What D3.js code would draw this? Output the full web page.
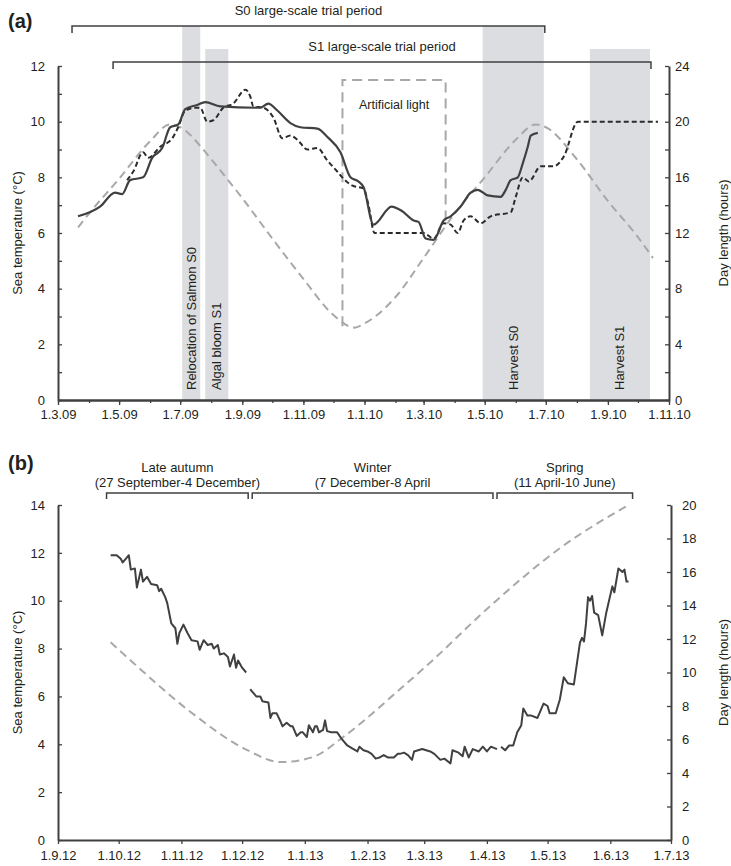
<!DOCTYPE html>
<html>
<head>
<meta charset="utf-8">
<script src="https://cdn.jsdelivr.net/npm/d3@7"></script>
<style>
  body { margin: 0; background: #fff; }
  svg { font-family: "Liberation Sans", Arial, sans-serif; }
</style>
</head>
<body>
<svg id="chart" width="731" height="866"></svg>
<script>
// ---------- Panel (a) data ----------
const aTrials = [
  { label: "S0 large-scale trial period", start: "2009-03-15", end: "2010-06-30", level: 0 },
  { label: "S1 large-scale trial period", start: "2009-04-25", end: "2010-10-14", level: 1 }
];
const aEvents = [
  { label: "Relocation of Salmon S0", start: "2009-07-03", end: "2009-07-21", level: 0 },
  { label: "Algal bloom S1", start: "2009-07-26", end: "2009-08-18", level: 1 },
  { label: "Harvest S0", start: "2010-04-29", end: "2010-06-29", level: 0 },
  { label: "Harvest S1", start: "2010-08-14", end: "2010-10-13", level: 1 }
];
const aDayLength = [
  ["2009-03-21", 12.4], ["2009-04-01", 13.4], ["2009-05-01", 15.9], ["2009-06-01", 18.6],
  ["2009-06-21", 19.8], ["2009-07-01", 19.6], ["2009-07-24", 18.0], ["2009-08-01", 17.3],
  ["2009-09-01", 14.5], ["2009-10-01", 11.6], ["2009-11-01", 8.7], ["2009-12-01", 6.1],
  ["2009-12-22", 5.2], ["2010-01-01", 5.5], ["2010-02-01", 7.4], ["2010-03-01", 10.2],
  ["2010-04-01", 13.4], ["2010-05-01", 16.0], ["2010-06-01", 18.7], ["2010-06-21", 19.8],
  ["2010-07-01", 19.6], ["2010-08-01", 17.3], ["2010-09-01", 14.3], ["2010-10-01", 11.7],
  ["2010-10-16", 10.2]
];
const aArtificialLight = [
  ["2009-12-10", 5.3], ["2009-12-10", 23], ["2010-03-23", 23], ["2010-03-23", 12.6]
];
const aTempS0 = [
  ["2009-03-21", 6.6], ["2009-04-12", 6.95], ["2009-04-27", 7.45], ["2009-05-04", 7.4],
  ["2009-05-12", 7.9], ["2009-05-25", 8.0], ["2009-06-03", 8.7], ["2009-06-13", 9.05],
  ["2009-06-21", 9.8], ["2009-06-29", 9.9], ["2009-07-06", 10.45], ["2009-07-18", 10.6],
  ["2009-07-26", 10.7], ["2009-08-10", 10.55], ["2009-09-19", 10.5], ["2009-09-27", 10.65],
  ["2009-10-06", 10.4], ["2009-10-19", 9.95], ["2009-10-29", 9.8], ["2009-11-15", 9.75],
  ["2009-11-25", 9.45], ["2009-12-08", 8.9], ["2009-12-18", 8.0], ["2009-12-26", 7.85],
  ["2009-12-31", 7.65], ["2010-01-10", 6.3], ["2010-01-28", 6.95], ["2010-02-07", 6.8],
  ["2010-02-19", 6.45], ["2010-02-24", 6.4], ["2010-03-03", 5.8], ["2010-03-11", 5.75],
  ["2010-03-21", 6.45], ["2010-03-28", 6.6], ["2010-04-07", 6.95], ["2010-04-17", 7.45],
  ["2010-04-24", 7.55], ["2010-05-04", 7.35], ["2010-05-17", 7.3], ["2010-05-22", 7.55],
  ["2010-05-27", 7.9], ["2010-06-03", 8.0], ["2010-06-08", 8.5], ["2010-06-13", 9.1],
  ["2010-06-16", 9.5], ["2010-06-23", 9.6]
];
const aTempS1 = [
  ["2009-05-09", 7.9], ["2009-05-15", 8.2], ["2009-05-25", 8.9], ["2009-05-30", 8.7],
  ["2009-06-11", 9.1], ["2009-06-23", 9.4], ["2009-06-29", 9.8], ["2009-07-06", 10.4],
  ["2009-07-16", 10.5], ["2009-07-21", 10.5], ["2009-07-28", 10.0], ["2009-08-03", 10.05],
  ["2009-08-13", 10.5], ["2009-08-23", 10.65], ["2009-09-04", 11.15], ["2009-09-09", 10.9],
  ["2009-09-12", 10.55], ["2009-09-22", 10.5], ["2009-10-02", 10.15], ["2009-10-11", 9.4],
  ["2009-10-19", 9.5], ["2009-10-26", 9.35], ["2009-11-05", 9.0], ["2009-11-15", 9.05],
  ["2009-11-25", 8.6], ["2009-12-05", 8.2], ["2009-12-11", 7.95], ["2009-12-20", 7.7],
  ["2009-12-31", 7.6], ["2010-01-05", 7.0], ["2010-01-11", 6.0], ["2010-03-01", 6.0],
  ["2010-03-11", 5.8], ["2010-03-21", 6.35], ["2010-03-28", 6.3], ["2010-04-04", 6.0],
  ["2010-04-10", 6.45], ["2010-04-17", 6.6], ["2010-04-27", 6.35], ["2010-05-07", 6.6],
  ["2010-05-27", 6.75], ["2010-06-01", 7.3], ["2010-06-08", 8.0], ["2010-06-14", 7.85],
  ["2010-06-26", 8.4], ["2010-07-09", 8.4], ["2010-07-19", 8.75], ["2010-08-02", 10.0],
  ["2010-10-21", 10.0]
];

// ---------- Panel (b) data ----------
const bSeasons = [
  { label: "Late autumn", dates: "(27 September-4 December)", start: "2012-09-25", end: "2012-12-04" },
  { label: "Winter", dates: "(7 December-8 April", start: "2012-12-06", end: "2013-04-04" },
  { label: "Spring", dates: "(11 April-10 June)", start: "2013-04-06", end: "2013-06-12" }
];
const bDayLength = [
  ["2012-09-27", 11.8], ["2012-10-08", 10.6], ["2012-11-06", 7.6], ["2012-12-03", 5.4],
  ["2012-12-20", 4.65], ["2013-01-05", 4.95], ["2013-01-20", 6.15], ["2013-02-17", 9.0],
  ["2013-03-04", 10.6], ["2013-04-02", 13.9], ["2013-05-08", 17.5], ["2013-06-10", 20.0]
];
// sea temperature, [days after 1 Sep 2012, °C], three logged segments
const bStart = "2012-09-01";
const bTempAutumn = [
  [26, 11.9], [29, 11.9], [31, 11.75], [32, 11.6], [34, 11.8], [35, 11.9], [36, 11.3],
  [38, 11.35], [39, 10.55], [41, 11.3], [42, 10.8], [44, 11.0], [46, 10.7], [49, 10.65],
  [50, 10.4], [51, 10.5], [53, 10.15], [54, 9.9], [56, 9.05], [58, 8.85], [59, 8.2],
  [60, 8.65], [62, 9.0], [64, 8.65], [66, 8.35], [69, 8.3], [70, 7.95], [72, 8.35],
  [74, 8.15], [76, 8.2], [77, 8.0], [79, 8.15], [80, 7.75], [82, 7.8], [84, 7.65],
  [85, 7.25], [87, 7.75], [88, 7.2], [89, 7.5], [91, 7.2], [93, 7.0]
];
const bTempWinter = [
  [95, 6.3], [96, 6.2], [98, 6.0], [100, 6.0], [101, 5.8], [104, 5.75], [105, 5.1],
  [106, 5.3], [108, 5.3], [110, 4.95], [111, 4.75], [113, 4.9], [115, 4.75], [116, 4.75],
  [118, 4.35], [120, 4.5], [121, 4.5], [123, 4.3], [124, 4.8], [126, 4.5], [127, 4.75],
  [128, 4.75], [129, 4.5], [131, 4.6], [132, 5.0], [133, 4.55], [135, 4.5], [138, 4.5],
  [140, 4.25], [143, 3.95], [145, 3.85], [148, 3.7], [149, 3.9], [151, 3.75], [153, 3.7],
  [155, 3.6], [157, 3.4], [159, 3.45], [161, 3.55], [163, 3.45], [166, 3.45], [168, 3.6],
  [169, 3.6], [171, 3.65], [173, 3.55], [175, 3.35], [176, 3.7], [180, 3.8], [184, 3.7],
  [186, 3.6], [189, 3.35], [191, 3.4], [194, 3.2], [195, 3.75], [198, 3.65], [200, 3.5],
  [201, 3.9], [203, 3.45], [205, 3.8], [208, 3.7], [210, 3.9], [212, 3.7], [214, 3.9],
  [217, 3.8]
];
const bTempSpring = [
  [219, 3.9], [221, 3.75], [223, 3.95], [225, 3.95], [227, 4.5], [229, 4.8], [230, 5.5],
  [232, 5.2], [234, 5.2], [237, 5.1], [238, 5.3], [240, 5.7], [242, 5.6], [243, 5.3],
  [246, 5.3], [248, 5.85], [250, 6.8], [252, 6.55], [255, 6.5], [258, 8.25], [259, 8.45],
  [260, 8.3], [261, 9.05], [262, 10.15], [263, 10.0], [264, 10.2], [265, 9.5], [267, 9.4],
  [269, 8.55], [271, 9.5], [274, 10.6], [275, 10.35], [277, 11.35], [279, 11.2],
  [280, 11.3], [281, 10.8], [282, 10.8]
];

// ---------- Helpers ----------
const parse = d3.timeParse("%Y-%m-%d");
const fmt = d3.timeFormat("%-d.%-m.%y");
const ink = "#404040";
const textCol = "#231f20";
const grayDash = "#a8a8a8";
const band = "#dcdde0";

const svg = d3.select("#chart");

function styleAxis(g) {
  g.select(".domain").attr("stroke", ink).attr("stroke-width", 2);
  g.selectAll(".tick line").attr("stroke", ink).attr("stroke-width", 1.3);
  g.selectAll(".tick text").attr("fill", textCol).attr("font-size", 13);
}

function yAxes(g, x, yL, yR, left, right, padL, padR) {
  const [x0, x1] = x.range();
  g.append("g").attr("transform", `translate(${x0},0)`)
    .call(d3.axisLeft(yL).tickValues(left.major).tickSizeInner(-4).tickSizeOuter(0).tickPadding(padL))
    .call(styleAxis);
  if (left.minor) {
    g.append("g").attr("transform", `translate(${x0},0)`)
      .call(d3.axisLeft(yL).tickValues(left.minor).tickSizeInner(-4).tickSizeOuter(0).tickFormat(""))
      .call(styleAxis).select(".domain").remove();
  }
  g.append("g").attr("transform", `translate(${x1},0)`)
    .call(d3.axisRight(yR).tickValues(right.major).tickSizeInner(-4).tickSizeOuter(0).tickPadding(padR))
    .call(styleAxis);
  if (right.minor) {
    g.append("g").attr("transform", `translate(${x1},0)`)
      .call(d3.axisRight(yR).tickValues(right.minor).tickSizeInner(-4).tickSizeOuter(0).tickFormat(""))
      .call(styleAxis).select(".domain").remove();
  }
  const [yb, yt] = yL.range();
  const cy = (yb + yt) / 2;
  g.append("text").attr("transform", `translate(17,${cy}) rotate(-90)`)
    .attr("text-anchor", "middle").attr("dy", "0.35em")
    .attr("font-size", 13).attr("fill", textCol).text("Sea temperature (°C)");
  g.append("text").attr("transform", `translate(723,${cy}) rotate(-90)`)
    .attr("text-anchor", "middle").attr("dy", "0.35em")
    .attr("font-size", 13).attr("fill", textCol).text("Day length (hours)");
}

function bracket(g, x0, x1, y, drop) {
  g.append("path")
    .attr("d", `M${x0},${y + drop}V${y}H${x1}V${y + drop}`)
    .attr("fill", "none").attr("stroke", ink).attr("stroke-width", 1.5);
}

// ---------- Panel (a) ----------
{
  const g = svg.append("g");
  const x = d3.scaleTime().domain([parse("2009-03-01"), parse("2010-11-01")]).range([58, 669]);
  const yL = d3.scaleLinear().domain([0, 12]).range([400, 66]);
  const yR = d3.scaleLinear().domain([0, 24]).range([400, 66]);
  const bracketY = [26, 62];
  const bandTop = [26, 49];

  g.append("text").attr("x", 8).attr("y", 28).attr("font-size", 20).attr("font-weight", "bold")
    .attr("fill", textCol).text("(a)");

  // shaded event bands
  g.selectAll("rect.band").data(aEvents).join("rect")
    .attr("x", d => x(parse(d.start)))
    .attr("width", d => x(parse(d.end)) - x(parse(d.start)))
    .attr("y", d => bandTop[d.level])
    .attr("height", d => yL(0) - bandTop[d.level])
    .attr("fill", band);

  g.selectAll("text.band").data(aEvents).join("text")
    .attr("transform", d => `translate(${(x(parse(d.start)) + x(parse(d.end))) / 2},390) rotate(-90)`)
    .attr("dy", "0.35em").attr("font-size", 13).attr("fill", textCol)
    .text(d => d.label);

  // trial period brackets
  aTrials.forEach(t => {
    const x0 = x(parse(t.start)), x1 = x(parse(t.end));
    bracket(g, x0, x1, bracketY[t.level], 7);
    g.append("text").attr("x", (x0 + x1) / 2).attr("y", bracketY[t.level] - 11)
      .attr("text-anchor", "middle").attr("font-size", 13).attr("fill", textCol).text(t.label);
  });

  const lineR = d3.line().x(d => x(parse(d[0]))).y(d => yR(d[1]));
  const lineL = d3.line().x(d => x(parse(d[0]))).y(d => yL(d[1])).curve(d3.curveMonotoneX);

  g.append("path").attr("d", lineR.curve(d3.curveMonotoneX)(aDayLength))
    .attr("fill", "none").attr("stroke", grayDash).attr("stroke-width", 2).attr("stroke-dasharray", "8,5");
  g.append("path").attr("d", d3.line().x(d => x(parse(d[0]))).y(d => yR(d[1]))(aArtificialLight))
    .attr("fill", "none").attr("stroke", grayDash).attr("stroke-width", 2).attr("stroke-dasharray", "10,6");
  g.append("text").attr("x", (x(parse(aArtificialLight[0][0])) + x(parse(aArtificialLight[2][0]))) / 2)
    .attr("y", yR(23) + 29).attr("text-anchor", "middle").attr("font-size", 12.5).attr("fill", textCol)
    .text("Artificial light");

  g.append("path").attr("d", lineL(aTempS1))
    .attr("fill", "none").attr("stroke", "#2b2b2b").attr("stroke-width", 2).attr("stroke-dasharray", "5,3");
  g.append("path").attr("d", lineL(aTempS0))
    .attr("fill", "none").attr("stroke", ink).attr("stroke-width", 2.2);

  // axes
  const months = d3.timeMonth.range(x.domain()[0], d3.timeDay.offset(x.domain()[1], 1));
  const major = months.filter(m => m.getMonth() % 2 === 0);
  g.append("g").attr("transform", `translate(0,${yL(0)})`)
    .call(d3.axisBottom(x).tickValues(months).tickSizeInner(3).tickSizeOuter(0).tickFormat(""))
    .call(styleAxis);
  g.append("g").attr("transform", `translate(0,${yL(0)})`)
    .call(d3.axisBottom(x).tickValues(major).tickSizeInner(5).tickSizeOuter(0).tickPadding(5).tickFormat(fmt))
    .call(styleAxis);

  yAxes(g, x, yL, yR,
    { major: d3.range(0, 13, 2), minor: d3.range(1, 12, 2) },
    { major: d3.range(0, 25, 4), minor: d3.range(2, 24, 4) }, 13, 6);
}

// ---------- Panel (b) ----------
{
  const g = svg.append("g");
  const x = d3.scaleTime().domain([parse("2012-09-01"), parse("2013-07-01")]).range([58, 671]);
  const yL = d3.scaleLinear().domain([0, 14]).range([840, 505]);
  const yR = d3.scaleLinear().domain([0, 20]).range([840, 505]);
  const base = parse(bStart);

  g.append("text").attr("x", 8).attr("y", 470).attr("font-size", 20).attr("font-weight", "bold")
    .attr("fill", textCol).text("(b)");

  bSeasons.forEach(s => {
    const x0 = x(parse(s.start)), x1 = x(parse(s.end));
    bracket(g, x0, x1, 493, 6);
    const cx = (x0 + x1) / 2;
    g.append("text").attr("x", cx).attr("y", 472).attr("text-anchor", "middle")
      .attr("font-size", 13).attr("fill", textCol).text(s.label);
    g.append("text").attr("x", cx).attr("y", 487).attr("text-anchor", "middle")
      .attr("font-size", 13).attr("fill", textCol).text(s.dates);
  });

  g.append("path")
    .attr("d", d3.line().x(d => x(parse(d[0]))).y(d => yR(d[1])).curve(d3.curveMonotoneX)(bDayLength))
    .attr("fill", "none").attr("stroke", grayDash).attr("stroke-width", 2).attr("stroke-dasharray", "8,5");

  const tLine = d3.line().x(d => x(d3.timeDay.offset(base, d[0]))).y(d => yL(d[1]));
  [bTempAutumn, bTempWinter, bTempSpring].forEach(seg => {
    g.append("path").attr("d", tLine(seg))
      .attr("fill", "none").attr("stroke", ink).attr("stroke-width", 2).attr("stroke-linejoin", "round");
  });

  const months = d3.timeMonth.range(x.domain()[0], d3.timeDay.offset(x.domain()[1], 1));
  g.append("g").attr("transform", `translate(0,${yL(0)})`)
    .call(d3.axisBottom(x).tickValues(months).tickSizeInner(4).tickSizeOuter(0).tickPadding(7).tickFormat(fmt))
    .call(styleAxis);

  yAxes(g, x, yL, yR,
    { major: d3.range(0, 15, 2) },
    { major: d3.range(0, 21, 2) }, 13, 11);
}
</script>
</body>
</html>
